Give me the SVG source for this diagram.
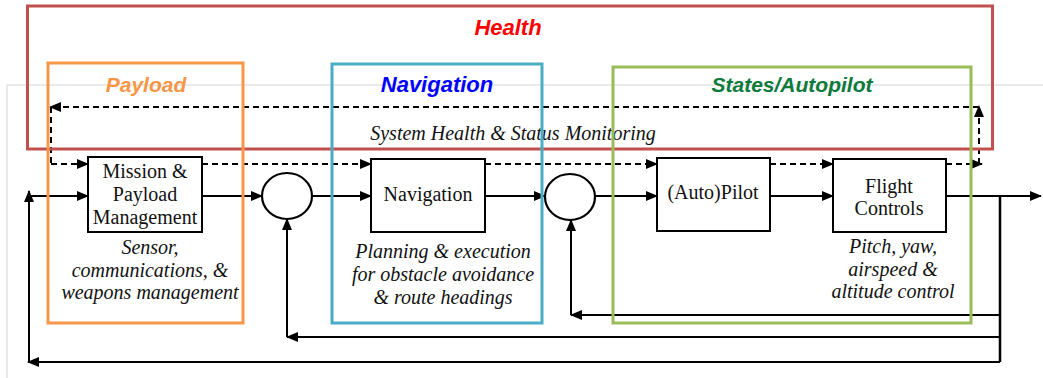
<svg xmlns="http://www.w3.org/2000/svg" width="1043" height="378" viewBox="0 0 1043 378">
<defs>
<marker id="ah" markerWidth="12" markerHeight="10" refX="11" refY="5" orient="auto" markerUnits="userSpaceOnUse">
<path d="M0,0 L12,5 L0,10 Z" fill="#000"/>
</marker>
<style>
.frame{fill:none;stroke:#e3e3e3;stroke-width:1.5}
.box{fill:#fff;stroke:#000;stroke-width:2}
.sum{fill:#fff;stroke:#000;stroke-width:2.2}
.ln{fill:none;stroke:#000;stroke-width:2}
.ar{fill:none;stroke:#000;stroke-width:2;marker-end:url(#ah)}
.da{fill:none;stroke:#000;stroke-width:2;stroke-dasharray:6 4}
.daa{fill:none;stroke:#000;stroke-width:2;stroke-dasharray:6 4;marker-end:url(#ah)}
.bt{font-family:"Liberation Serif","Times New Roman",serif;font-size:20px;fill:#111;text-anchor:middle}
.it{font-family:"Liberation Serif","Times New Roman",serif;font-size:20px;font-style:italic;fill:#111;text-anchor:middle}
.grp{fill:none;stroke-width:3}
.gt{font-family:"Liberation Sans",Arial,sans-serif;font-weight:bold;font-style:italic;text-anchor:middle}
</style>
</defs>
<rect width="1043" height="378" fill="#fff"/>
<path class="frame" d="M7,378 V85 H1043"/>

<g id="connectors">
<!-- main forward path -->
<path class="ln" d="M29,196 H60"/>
<path class="ar" d="M60,196 H88"/>
<path class="ar" d="M202,196 H262"/>
<path class="ar" d="M312,196 H371"/>
<path class="ar" d="M485,196 H545"/>
<path class="ar" d="M595,196 H657"/>
<path class="ar" d="M770,196 H833"/>
<path class="ar" d="M946,196 H1041"/>
<!-- feedback -->
<path class="ln" d="M1000,196 V362" style="stroke-width:2.5"/>
<path class="ar" d="M1000,315 H571"/>
<path class="ar" d="M571,315 V220"/>
<path class="ar" d="M1000,337 H287"/>
<path class="ar" d="M287,337 V219"/>
<path class="ar" d="M1000,362 H28"/>
<path class="ar" d="M29,362 V191"/>
<!-- health monitoring dashed -->
<path class="daa" d="M946,164 H982"/>
<path class="daa" d="M979,164 V106"/>
<path class="daa" d="M979,107 H50"/>
<path class="da" d="M51,107 V164"/>
<path class="daa" d="M51,164 H88"/>
<path class="daa" d="M202,164 H371"/>
<path class="daa" d="M485,164 H657"/>
<path class="daa" d="M770,164 H833"/>
</g>

<text class="it" x="513" y="140">System Health &amp; Status Monitoring</text>

<g id="mission">
<rect class="box" x="88" y="157" width="114" height="75"/>
<text class="bt" x="145" y="178">Mission &amp;</text>
<text class="bt" x="145" y="201">Payload</text>
<text class="bt" x="145" y="224">Management</text>
<text class="it" x="150" y="254">Sensor,</text>
<text class="it" x="150" y="277">communications, &amp;</text>
<text class="it" x="150" y="299">weapons management</text>
</g>

<g id="sum1">
<ellipse class="sum" cx="287" cy="196" rx="25" ry="23"/>
</g>

<g id="navigation">
<rect class="box" x="371" y="159" width="114" height="73"/>
<text class="bt" x="428" y="201">Navigation</text>
<text class="it" x="443" y="258">Planning &amp; execution</text>
<text class="it" x="443" y="281">for obstacle avoidance</text>
<text class="it" x="443" y="304">&amp; route headings</text>
</g>

<g id="sum2">
<ellipse class="sum" cx="570" cy="197" rx="25" ry="23"/>
</g>

<g id="autopilot">
<rect class="box" x="657" y="158" width="113" height="73"/>
<text class="bt" x="713" y="199">(Auto)Pilot</text>
</g>

<g id="flight">
<rect class="box" x="833" y="159" width="113" height="73"/>
<text class="bt" x="889" y="193">Flight</text>
<text class="bt" x="889" y="215">Controls</text>
<text class="it" x="893" y="253">Pitch, yaw,</text>
<text class="it" x="893" y="276">airspeed &amp;</text>
<text class="it" x="893" y="298">altitude control</text>
</g>

<g id="health">
<rect class="grp" x="27.5" y="6" width="965" height="143" stroke="#C0504D"/>
<text class="gt" x="508" y="35" font-size="22" fill="#FF0000">Health</text>
</g>
<g id="payload">
<rect class="grp" x="48" y="63" width="195" height="260" stroke="#F79646"/>
<text class="gt" x="146" y="92" font-size="21" fill="#F79646">Payload</text>
</g>
<g id="navgroup">
<rect class="grp" x="332" y="64" width="210" height="259" stroke="#4BACC6"/>
<text class="gt" x="437" y="92" font-size="22" fill="#0000FF">Navigation</text>
</g>
<g id="states">
<rect class="grp" x="613" y="67" width="358" height="256" stroke="#9BBB59"/>
<text class="gt" x="792" y="92" font-size="21" fill="#0B7A3B">States/Autopilot</text>
</g>
</svg>
